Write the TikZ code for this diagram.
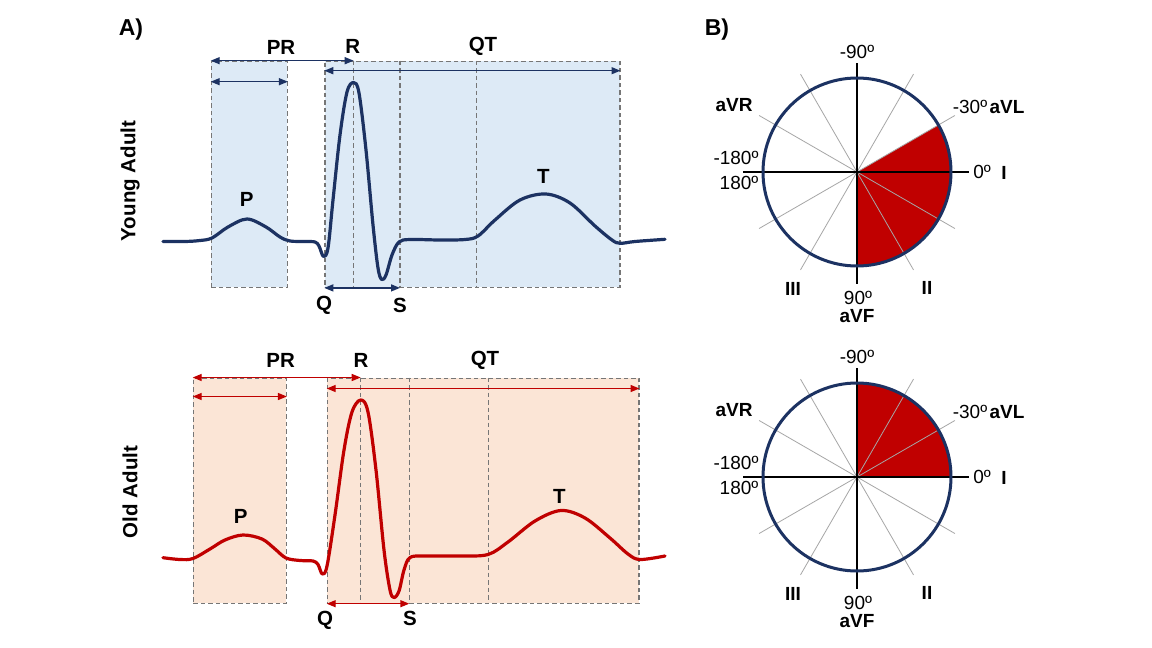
\documentclass[tikz,border=0pt]{standalone}
\usepackage{fontspec}
\setmainfont{Liberation Sans}
\usetikzlibrary{arrows.meta,positioning,calc}

\definecolor{navy}{RGB}{28,50,98}
\definecolor{ecgred}{RGB}{192,0,0}
\definecolor{bluefill}{RGB}{221,234,246}
\definecolor{peachfill}{RGB}{251,229,214}
\definecolor{dashgray}{RGB}{118,118,118}

\begin{document}
\begin{tikzpicture}[x=1pt, y=-1pt,
  lbl/.style={font=\fontsize{19}{22}\selectfont\bfseries, inner sep=0pt},
  wlbl/.style={font=\fontsize{20.5}{24}\selectfont\bfseries, inner sep=0pt},
  deg/.style={font=\fontsize{19}{22}\selectfont, inner sep=0pt},
  panel/.style={font=\fontsize{23}{26}\selectfont\bfseries, inner sep=0pt},
  box/.style={draw=dashgray, dash pattern=on 4.5pt off 3pt, line width=1.2pt,
              fill=#1, inner sep=0pt, anchor=north west},
  sep/.style={draw=dashgray, dash pattern=on 4.5pt off 3pt, line width=1.2pt},
  dim/.style={<->, >={Triangle[length=9pt,width=7pt]}, line width=1.4pt, draw=#1, fill=#1},
  ecg/.style={line width=3.2pt, draw=#1, line join=round, line cap=round},
  ring/.style={draw=navy, line width=3pt},
  axis/.style={draw=black, line width=2pt},
  spoke/.style={draw=gray!70, line width=0.8pt}]
\fill[white] (0,0) rectangle (1152,648);
\useasboundingbox (0,0) rectangle (1152,648);

\node[panel] (pA) at (131,30) {A)};
\node[panel] (pB) at (717,30) {B)};

% young adult
\node[box=bluefill, minimum width=76pt, minimum height=226pt] (yP) at (210.7,60.7) {};
\node[box=bluefill, minimum width=295pt, minimum height=226pt] (yQ) at (324.3,60.7) {};
\coordinate (yR) at (353.7,60.7);
\coordinate (yS) at (400,60.7);
\coordinate (yT) at (476.7,60.7);
\foreach \c in {yR,yS,yT} \draw[sep] (\c) -- (\c |- yQ.south);
\draw[ecg=navy] plot[smooth, tension=0.55] coordinates {
  (163,241.5) (185,241.5) (200,240.5) (212,238) (228,227) (247,219) (266,227)
  (280,237) (290,241) (305,241.5) (315,242) (319,246) (323.5,256.5) (328,248)
  (333,200) (340,135) (347,92) (353.7,82.5) (359,93) (366,150) (373,225)
  (378,268) (381.7,279.5) (386,275) (392,255) (399,242) (410,239.5) (440,240)
  (465,239.5) (478,236) (495,220) (520,200) (546,194) (570,203) (595,226)
  (612,240) (620,243.3) (635,241.5) (665,239.3)};
\draw[dim=navy] (yP.north west) -- (yR);
\draw[dim=navy] ($(yP.north west)+(0,21)$) -- ($(yP.north east)+(0,21)$);
\draw[dim=navy] ($(yQ.north west)+(0,10)$) -- ($(yQ.north east)+(0,10)$);
\draw[dim=navy] (yQ.south west) -- (yS |- yQ.south);
\node[wlbl] (yPR) at (281,47) {PR};
\node[wlbl] (yRl) at (352.7,46.7) {R};
\node[wlbl] (yQT) at (483,46.7) {QT};
\node[wlbl] (yPl) at (246.7,199.3) {P};
\node[wlbl] (yTl) at (543.3,176) {T};
\node[wlbl] (yQl) at (324,305) {Q};
\node[wlbl] (ySl) at (400,305) {S};
\node[wlbl, rotate=90] (yname) at (130,181) {Young Adult};

% old adult
\node[box=peachfill, minimum width=93pt, minimum height=225pt] (oP) at (192.7,377.5) {};
\node[box=peachfill, minimum width=311.6pt, minimum height=225pt] (oQ) at (326.7,377.5) {};
\coordinate (oR) at (360.7,377.5);
\coordinate (oS) at (409.3,377.5);
\coordinate (oT) at (488.3,377.5);
\foreach \c in {oR,oS,oT} \draw[sep] (\c) -- (\c |- oQ.south);
\draw[ecg=ecgred] plot[smooth, tension=0.55] coordinates {
  (163,557.7) (180,559.5) (193,558.5) (210,549) (225,540) (243,535) (262,539)
  (275,549) (286,558) (300,560.5) (313,561) (318,564.5) (322.3,574) (327,566)
  (335,515) (344,450) (352,412) (360.7,400) (368,412) (376,470) (384,550)
  (390,590) (394,597.5) (399,591) (404,570) (410,557.5) (425,556) (460,556)
  (488,554.5) (508,542) (535,521) (561,510.5) (585,518) (610,538) (628,554)
  (640,559.5) (665,556)};
\draw[dim=ecgred] (oP.north west) -- (oR);
\draw[dim=ecgred] ($(oP.north west)+(0,19)$) -- ($(oP.north east)+(0,19)$);
\draw[dim=ecgred] ($(oQ.north west)+(0,11)$) -- ($(oQ.north east)+(0,11)$);
\draw[dim=ecgred] (oQ.south west) -- (oS |- oQ.south);
\node[wlbl] (oPR) at (280.7,360) {PR};
\node[wlbl] (oRl) at (361,360) {R};
\node[wlbl] (oQT) at (485,360) {QT};
\node[wlbl] (oPl) at (240.7,516.7) {P};
\node[wlbl] (oTl) at (559.3,496.7) {T};
\node[wlbl] (oQl) at (325,620) {Q};
\node[wlbl] (oSl) at (410,618) {S};
\node[wlbl, rotate=90] (oname) at (130,492) {Old Adult};

% hexaxial circles
\foreach \cy/\sa/\sb/\k in {172/-30/90/t, 477/-90/0/b} {
  \begin{scope}[shift={(857,\cy)}]
    \fill[ecgred] (0,0) -- (\sa:94) arc[start angle=\sa, end angle=\sb, radius=94] -- cycle;
    \foreach \a in {30,60,120,150} \draw[spoke] (\a:-113) -- (\a:113);
    \draw[axis] (-114,0) -- (112,0);
    \draw[axis] (0,-109) -- (0,112);
    \draw[ring] (0,0) circle[radius=94];
    \node[deg] (n90\k) at (0,-120) {-90º};
    \node[lbl] (avr\k) at (-123,-67) {aVR};
    \node[deg] (n30\k) at (113,-65) {-30º};
    \node[lbl] (avl\k) at (150,-65) {aVL};
    \node[deg] (n180\k) at (-121,-14) {-180º};
    \node[deg] (p180\k) at (-118,11) {180º};
    \node[deg] (z\k) at (125,0) {0º};
    \node[lbl] (one\k) at (147,1) {I};
    \node[lbl] (three\k) at (-64,117) {III};
    \node[lbl] (two\k) at (70,116) {II};
    \node[deg] (p90\k) at (1,126) {90º};
    \node[lbl] (avf\k) at (0,144) {aVF};
  \end{scope}
}
\end{tikzpicture}
\end{document}
